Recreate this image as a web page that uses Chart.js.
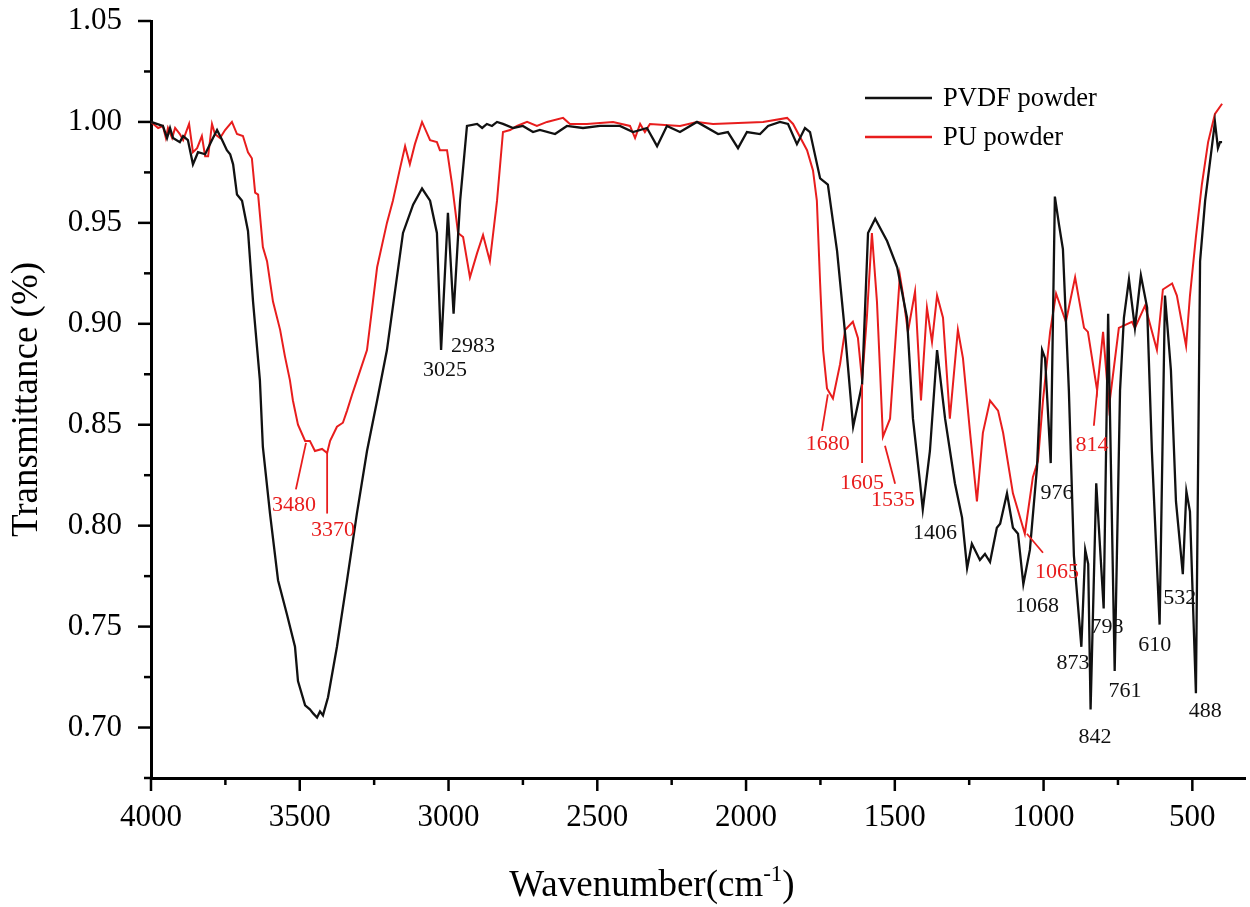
<!DOCTYPE html>
<html>
<head>
<meta charset="utf-8">
<title>FTIR PVDF / PU</title>
<script src="https://cdn.jsdelivr.net/npm/chart.js@4.4.1/dist/chart.umd.min.js"></script>
<style>
  html, body { margin: 0; padding: 0; background: #fff; }
  #spectre { display: block; }
</style>
</head>
<body>
<canvas id="spectre" width="1250" height="907"></canvas>
<script>
// PVDF powder
const pvdfWave = [4000, 3960, 3946, 3936, 3926, 3903, 3892, 3876, 3859, 3842, 3818, 3795, 3778, 3761, 3745, 3734, 3724, 3711, 3694, 3674,
    3657, 3634, 3624, 3600, 3573, 3543, 3516, 3506, 3482, 3466, 3455, 3442, 3432, 3422, 3405, 3375, 3341, 3308, 3274, 3240,
    3207, 3153, 3119, 3089, 3062, 3039, 3025, 3002, 2983, 2961, 2938,
    2904, 2887, 2871, 2854, 2837, 2817, 2783, 2750, 2716, 2693, 2642, 2602, 2548, 2491, 2424, 2380, 2333, 2299, 2266, 2222,
    2165, 2094, 2061, 2027, 1997, 1953, 1926, 1886, 1859, 1829, 1802, 1785, 1751, 1725,
    1694, 1667, 1640, 1610, 1590, 1566, 1526, 1492, 1459, 1439, 1415, 1406, 1382, 1358, 1331, 1298, 1274, 1257, 1241, 1214,
    1197, 1180, 1157, 1146, 1123, 1103, 1086, 1068, 1046, 1022, 1005, 995, 976, 962, 948, 935, 915, 898, 873, 860,
    850, 842, 823, 798, 783, 761, 743, 730, 713, 693, 673, 652, 636, 610, 592, 572, 555, 532, 520, 508,
    488, 474, 457, 440, 424, 414, 407, 400];
const pvdfT = [1.000, 0.998, 0.992, 0.997, 0.992, 0.990, 0.993, 0.991, 0.979, 0.985, 0.984, 0.991, 0.996, 0.991, 0.986, 0.984, 0.979, 0.964, 0.961, 0.946,
    0.911, 0.872, 0.839, 0.806, 0.773, 0.756, 0.740, 0.723, 0.711, 0.709, 0.707, 0.705, 0.708, 0.706, 0.715, 0.740, 0.773, 0.806, 0.837, 0.862,
    0.887, 0.945, 0.959, 0.967, 0.961, 0.945, 0.887, 0.955, 0.905, 0.961, 0.998,
    0.999, 0.997, 0.999, 0.998, 1.000, 0.999, 0.997, 0.998, 0.995, 0.996, 0.994, 0.998, 0.997, 0.998, 0.998, 0.995, 0.997, 0.988, 0.998, 0.995,
    1.000, 0.994, 0.995, 0.987, 0.995, 0.994, 0.998, 1.000, 0.999, 0.989, 0.997, 0.995, 0.972, 0.969,
    0.936, 0.895, 0.849, 0.870, 0.945, 0.952, 0.941, 0.928, 0.903, 0.853, 0.821, 0.808, 0.837, 0.887, 0.853, 0.821, 0.804, 0.779, 0.791, 0.783,
    0.786, 0.782, 0.799, 0.801, 0.816, 0.799, 0.796, 0.771, 0.788, 0.829, 0.887, 0.883, 0.831, 0.963, 0.949, 0.937, 0.867, 0.785, 0.740, 0.788,
    0.781, 0.709, 0.821, 0.759, 0.905, 0.728, 0.867, 0.903, 0.922, 0.898, 0.924, 0.908, 0.837, 0.751, 0.914, 0.877, 0.812, 0.776, 0.817, 0.807,
    0.717, 0.931, 0.961, 0.981, 1.000, 0.987, 0.990, 0.990];

// PU powder
const puWave = [4000, 3976, 3960, 3950, 3943, 3929, 3919, 3903, 3892, 3872, 3859, 3845, 3829, 3818, 3808, 3795, 3785, 3768, 3751, 3728,
    3711, 3691, 3674, 3661, 3650, 3640, 3624, 3610, 3590, 3566, 3550, 3533, 3523, 3506, 3482, 3466, 3449, 3425, 3408, 3398,
    3375, 3355, 3341, 3324, 3308, 3274, 3240, 3207, 3187, 3163, 3146, 3130, 3113, 3089, 3062, 3039, 3029, 3005, 2988, 2968,
    2951, 2928, 2904, 2884, 2861, 2837, 2817, 2793, 2770, 2736, 2703, 2669, 2615, 2592, 2535, 2447, 2390, 2373, 2356, 2340,
    2323, 2222, 2165, 2111, 1943, 1862, 1842, 1795, 1775, 1762, 1751, 1741, 1728, 1708, 1684, 1667, 1641, 1624, 1610, 1594,
    1577, 1560, 1550, 1540, 1516, 1500, 1483, 1473, 1456, 1432, 1412, 1392, 1375, 1358, 1338, 1315, 1288, 1271, 1247, 1224,
    1204, 1180, 1153, 1136, 1103, 1079, 1063, 1036, 1019, 1002, 978, 958, 925, 894, 864, 851, 820, 800, 780, 747,
    703, 693, 659, 619, 599, 568, 552, 521, 508, 488, 468, 447, 424, 400];
const puT = [1.000, 0.997, 0.998, 0.992, 0.997, 0.992, 0.997, 0.994, 0.991, 0.999, 0.985, 0.987, 0.993, 0.983, 0.983, 0.999, 0.994, 0.992, 0.996, 1.000,
    0.994, 0.993, 0.985, 0.982, 0.965, 0.964, 0.938, 0.931, 0.911, 0.897, 0.884, 0.872, 0.862, 0.850, 0.842, 0.842, 0.837, 0.838, 0.836, 0.842,
    0.849, 0.851, 0.857, 0.865, 0.872, 0.887, 0.928, 0.950, 0.961, 0.977, 0.988, 0.979, 0.989, 1.000, 0.991, 0.990, 0.986, 0.986, 0.969, 0.945,
    0.943, 0.923, 0.935, 0.944, 0.931, 0.961, 0.995, 0.996, 0.998, 1.000, 0.998, 1.000, 1.002, 0.999, 0.999, 1.000, 0.998, 0.992, 0.999, 0.995,
    0.999, 0.998, 1.000, 0.999, 1.000, 1.002, 0.999, 0.986, 0.976, 0.961, 0.920, 0.887, 0.868, 0.863, 0.880, 0.897, 0.901, 0.893, 0.872, 0.903,
    0.945, 0.911, 0.878, 0.844, 0.853, 0.887, 0.924, 0.915, 0.896, 0.916, 0.862, 0.908, 0.891, 0.914, 0.903, 0.853, 0.897, 0.883, 0.846, 0.812,
    0.846, 0.862, 0.857, 0.846, 0.816, 0.804, 0.796, 0.824, 0.832, 0.862, 0.896, 0.915, 0.901, 0.923, 0.898, 0.896, 0.867, 0.896, 0.859, 0.898,
    0.901, 0.898, 0.909, 0.887, 0.917, 0.920, 0.914, 0.889, 0.914, 0.943, 0.969, 0.990, 1.004, 1.009];

const xTicks = [4000, 3500, 3000, 2500, 2000, 1500, 1000, 500];
const yTicks = [0.70, 0.75, 0.80, 0.85, 0.90, 0.95, 1.00, 1.05];

// peak labels: text, wavenumber, transmittance (where the text sits)
const pvdfPeaks = [
    ['3025', 3012, 0.877], ['2983', 2918, 0.889], ['1406', 1365, 0.7965], ['1068', 1022, 0.760],
    ['976', 955, 0.816], ['873', 901, 0.732], ['798', 787, 0.7495], ['842', 827, 0.695],
    ['761', 726, 0.718], ['610', 626, 0.741], ['532', 542, 0.764], ['488', 457, 0.708]
];
const puPeaks = [
    ['3480', 3519, 0.810], ['3370', 3388, 0.7975], ['1680', 1725, 0.8405], ['1605', 1610, 0.821],
    ['1535', 1506, 0.8124], ['1065', 955, 0.777], ['814', 837, 0.840]
];
// leader lines for the PU labels: w1, t1, w2, t2
const puLeaders = [
    [3513, 0.818, 3479, 0.841], [3408, 0.806, 3408, 0.836], [1745, 0.847, 1725, 0.865],
    [1610, 0.831, 1610, 0.870], [1533, 0.8396, 1499, 0.8208], [1056, 0.796, 1002, 0.7866],
    [831, 0.8495, 820, 0.8668]
];

const NOIR = '#111111';
const ROUGE = '#e81d1d';
const SERIF = '"Liberation Serif", "Times New Roman", serif';

function pontos(ws, ts) {
    return ws.map((w, i) => ({ x: w, y: ts[i] }));
}

const decor = {
    id: 'decor',
    afterDraw(chart) {
        const { ctx, chartArea, scales: { x, y } } = chart;
        ctx.save();

        // tick marks (major + minor)
        ctx.strokeStyle = '#000';
        ctx.lineWidth = 2.5;
        for (let v = 4000; v >= x.min; v -= 250) {
            const px = x.getPixelForValue(v);
            const len = xTicks.includes(v) ? 13 : 7;
            ctx.beginPath();
            ctx.moveTo(px, chartArea.bottom);
            ctx.lineTo(px, chartArea.bottom + len);
            ctx.stroke();
        }
        for (let k = 0; k <= 15; k++) {
            const v = 0.675 + k * 0.025;
            const py = y.getPixelForValue(v);
            const len = (k % 2 === 1) ? 13 : 7;
            ctx.beginPath();
            ctx.moveTo(chartArea.left, py);
            ctx.lineTo(chartArea.left - len, py);
            ctx.stroke();
        }

        // peak labels
        ctx.font = '22px ' + SERIF;
        ctx.textAlign = 'center';
        ctx.textBaseline = 'middle';
        ctx.fillStyle = NOIR;
        pvdfPeaks.forEach(p => ctx.fillText(p[0], x.getPixelForValue(p[1]), y.getPixelForValue(p[2])));
        ctx.fillStyle = ROUGE;
        puPeaks.forEach(p => ctx.fillText(p[0], x.getPixelForValue(p[1]), y.getPixelForValue(p[2])));
        ctx.strokeStyle = ROUGE;
        ctx.lineWidth = 1.8;
        puLeaders.forEach(l => {
            ctx.beginPath();
            ctx.moveTo(x.getPixelForValue(l[0]), y.getPixelForValue(l[1]));
            ctx.lineTo(x.getPixelForValue(l[2]), y.getPixelForValue(l[3]));
            ctx.stroke();
        });

        // legend
        ctx.font = '26.5px ' + SERIF;
        ctx.textAlign = 'left';
        chart.data.datasets.forEach((ds, i) => {
            const ly = 98 + i * 39;
            ctx.strokeStyle = ds.borderColor;
            ctx.lineWidth = 2.5;
            ctx.beginPath();
            ctx.moveTo(865, ly);
            ctx.lineTo(932, ly);
            ctx.stroke();
            ctx.fillStyle = '#000';
            ctx.fillText(ds.label, 943, ly + 1);
        });

        // x title with superscript
        ctx.fillStyle = '#000';
        const base = '37px ' + SERIF, sup = '23px ' + SERIF;
        ctx.font = base;
        const w1 = ctx.measureText('Wavenumber(cm').width;
        const w3 = ctx.measureText(')').width;
        ctx.font = sup;
        const w2 = ctx.measureText('-1').width;
        let tx = 652 - (w1 + w2 + w3) / 2;
        const ty = 883;
        ctx.textBaseline = 'alphabetic';
        ctx.font = base;
        ctx.fillText('Wavenumber(cm', tx, ty + 13);
        tx += w1;
        ctx.font = sup;
        ctx.fillText('-1', tx, ty - 2);
        tx += w2;
        ctx.font = base;
        ctx.fillText(')', tx, ty + 13);

        ctx.restore();
    }
};

const ctx = document.getElementById('spectre').getContext('2d');
const grafico = new Chart(ctx, {
    type: 'line',
    data: {
        datasets: [
            {
                label: 'PVDF powder',
                data: pontos(pvdfWave, pvdfT),
                borderColor: NOIR,
                borderWidth: 2.3,
                pointRadius: 0,
                tension: 0
            },
            {
                label: 'PU powder',
                data: pontos(puWave, puT),
                borderColor: ROUGE,
                borderWidth: 2,
                pointRadius: 0,
                tension: 0
            }
        ]
    },
    options: {
        responsive: false,
        animation: false,
        layout: { padding: { top: 21, right: 5, left: 0, bottom: 0 } },
        plugins: {
            legend: { display: false },
            tooltip: { enabled: false }
        },
        scales: {
            x: {
                type: 'linear',
                reverse: true,
                min: 323,
                max: 4000,
                afterBuildTicks: s => { s.ticks = xTicks.map(v => ({ value: v })); },
                afterFit: s => { s.height = 129; s.paddingLeft = 0; s.paddingRight = 0; },
                grid: { display: true, drawOnChartArea: false, drawTicks: false },
                border: { display: true, color: '#000', width: 3 },
                ticks: {
                    autoSkip: false,
                    maxRotation: 0,
                    padding: 21,
                    color: '#000',
                    font: { family: SERIF, size: 31 },
                    callback: v => String(v)
                }
            },
            y: {
                min: 0.675,
                max: 1.05,
                afterBuildTicks: s => { s.ticks = yTicks.map(v => ({ value: v })); },
                afterFit: s => { s.width = 151; s.paddingTop = 0; s.paddingBottom = 0; },
                grid: { display: true, drawOnChartArea: false, drawTicks: false },
                border: { display: true, color: '#000', width: 3 },
                ticks: {
                    padding: 29,
                    color: '#000',
                    font: { family: SERIF, size: 31 },
                    callback: v => v.toFixed(2)
                },
                title: {
                    display: true,
                    text: 'Transmittance (%)',
                    color: '#000',
                    font: { family: SERIF, size: 37 },
                    padding: { top: 5, bottom: 0 }
                }
            }
        }
    },
    plugins: [decor]
});
</script>
</body>
</html>
